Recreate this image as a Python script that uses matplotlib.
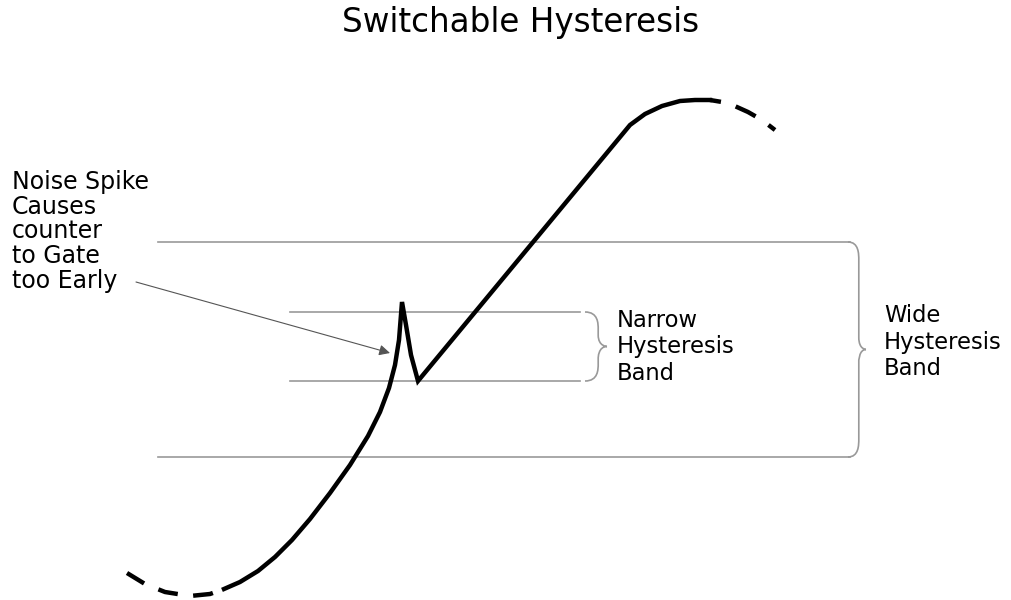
import matplotlib
matplotlib.use("Agg")
import numpy as np
import matplotlib.pyplot as plt
from matplotlib.path import Path
import matplotlib.patches as mpatches

# Signal curve (pixel coords, y down)
dash_lo_x = [127, 145, 165, 190, 210, 224]
dash_lo_y = [573, 584, 592, 596, 594, 589]
solid_x = [224, 240, 258, 275, 292, 310, 330, 350, 368, 380, 389, 395, 399, 402, 406, 411, 418, 630, 645, 662, 680, 695, 710]
solid_y = [589, 582, 571, 557, 540, 519, 493, 465, 436, 412, 388, 365, 340, 302, 325, 355, 381, 125, 114, 106, 101, 100, 100]
dash_hi_x = [710, 728, 748, 762, 775]
dash_hi_y = [100, 103, 112, 120, 130]

# Hysteresis bands: (y_top, y_bottom, x_start, x_end)
wide_band = (242, 457, 158, 850)
narrow_band = (312, 381, 290, 580)

# Labels: lines and baselines
note_lines = ["Noise Spike", "Causes", "counter", "to Gate", "too Early"]
note_base = [189, 213.5, 238, 263, 288]
narrow_lines = ["Narrow", "Hysteresis", "Band"]
narrow_base = [327, 353.5, 380]
wide_lines = ["Wide", "Hysteresis", "Band"]
wide_base = [322, 348.5, 375]

fig = plt.figure(figsize=(10.11, 6.0), dpi=100)
ax = fig.add_axes([0, 0, 1, 1])
ax.set_xlim(0, 1011)
ax.set_ylim(600, 0)
ax.axis("off")

lc = "#999999"
for yt, yb, x0, x1 in [wide_band, narrow_band]:
    ax.plot([x0, x1], [yt, yt], color=lc, lw=1.2)
    ax.plot([x0, x1], [yb, yb], color=lc, lw=1.2)


def brace(ax, x, y0, y1, w):
    ym = (y0 + y1) / 2
    r = min(12, (y1 - y0) / 6)
    verts = [(x, y0),
             (x + w * 0.6, y0), (x + w * 0.6, y0 + r), (x + w * 0.6, y0 + r * 1.5),
             (x + w * 0.6, ym - r),
             (x + w * 0.6, ym), (x + w, ym), (x + w, ym),
             (x + w * 0.6, ym), (x + w * 0.6, ym + r), (x + w * 0.6, ym + r),
             (x + w * 0.6, y1 - r * 1.5),
             (x + w * 0.6, y1 - r), (x + w * 0.6, y1), (x, y1)]
    codes = [Path.MOVETO,
             Path.CURVE4, Path.CURVE4, Path.CURVE4,
             Path.LINETO,
             Path.CURVE4, Path.CURVE4, Path.CURVE4,
             Path.CURVE4, Path.CURVE4, Path.CURVE4,
             Path.LINETO,
             Path.CURVE4, Path.CURVE4, Path.CURVE4]
    ax.add_patch(mpatches.PathPatch(Path(verts, codes), fill=False,
                                    edgecolor=lc, lw=1.2))


brace(ax, 585, narrow_band[0], narrow_band[1], 22)
brace(ax, 848, wide_band[0], wide_band[1], 18)

# curve
ax.plot(dash_lo_x, dash_lo_y, color="black", lw=3.2, ls=(0, (4.5, 3.5)),
        dash_capstyle="butt")
ax.plot(solid_x, solid_y, color="black", lw=3.2, solid_joinstyle="miter")
ax.plot(dash_hi_x, dash_hi_y, color="black", lw=3.2, ls=(2.5, (5, 3.5)),
        dash_capstyle="butt")

# arrow
ax.annotate("", xy=(390, 353), xytext=(136, 282),
            arrowprops=dict(arrowstyle="-|>", color="#555555", lw=0.8,
                            mutation_scale=16, shrinkA=0, shrinkB=0))

fam = ["DejaVu Sans"]
ax.text(521, 32, "Switchable Hysteresis", ha="center", va="baseline",
        fontsize=23.5, family=fam)
for s, yb in zip(note_lines, note_base):
    ax.text(12, yb, s, ha="left", va="baseline", fontsize=17, family=fam)
for s, yb in zip(narrow_lines, narrow_base):
    ax.text(617, yb, s, ha="left", va="baseline", fontsize=16.3, family=fam)
for s, yb in zip(wide_lines, wide_base):
    ax.text(884, yb, s, ha="left", va="baseline", fontsize=16.3, family=fam)

fig.savefig("out.png", dpi=100)
